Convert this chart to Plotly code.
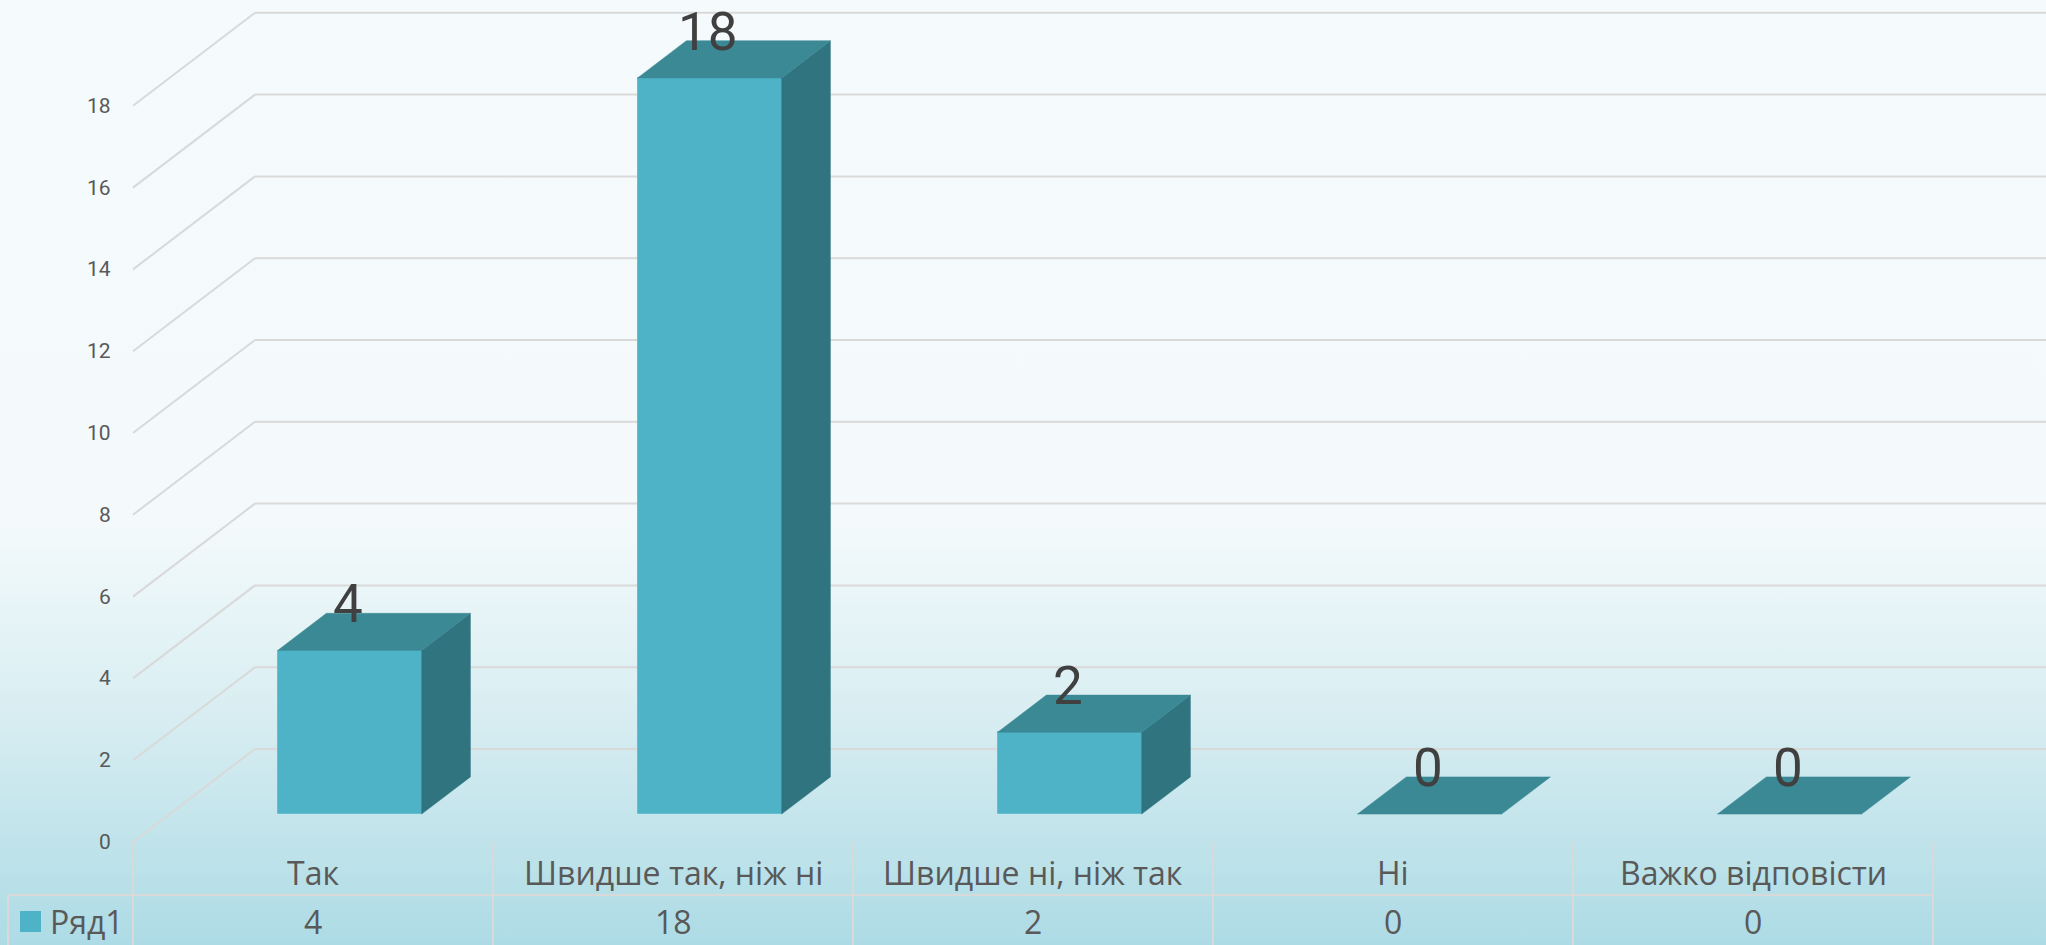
import base64
import plotly.graph_objects as go

# ---------------- data ----------------
categories = ["Так", "Швидше так, ніж ні", "Швидше ні, ніж так", "Ні", "Важко відповісти"]
values = [4, 18, 2, 0, 0]
y_ticks = [0, 2, 4, 6, 8, 10, 12, 14, 16, 18]
series_name = "Ряд1"

# ---------------- style / layout constants ----------------
W, H = 2046, 945
X0, XU = 313.0, 360.0      # px of category 0 centre, px per category
Y0, YU = 842.0, 40.9       # px of value 0 at front of floor, px per value unit
XR = [(0 - X0) / XU, (W - X0) / XU]
YR = [(Y0 - H) / YU, Y0 / YU]

DX, DY = 122.0 / XU, 93.0 / YU     # full depth vector
F_FRONT, F_BACK = 0.30, 0.70        # bar depth position
BAR_W = 0.4

FRONT_C = "#4FB3C8"
TOP_C = "#3B8995"
SIDE_C = "#307480"
GRID_C = "#D9D9D9"
TXT_C = "#595959"
FONT = "Roboto"
TABLE_FONT = "Open Sans"

fig = go.Figure()

def add_line(x0, y0, x1, y1):
    fig.add_shape(type="line", xref="x", yref="y", x0=x0, y0=y0, x1=x1, y1=y1,
                  line=dict(color=GRID_C, width=2), layer="below")

# ---------- gridlines: left wall diagonals + back wall horizontals ----------
for t in y_ticks:
    add_line(-0.5, t, -0.5 + DX, t + DY)
    add_line(-0.5 + DX, t + DY, XR[1] + 0.1, t + DY)

# ---------- data table lines ----------
row_split = -1.296
left_border = (8 - X0) / XU
for k in range(len(categories) + 1):
    add_line(-0.5 + k, 0, -0.5 + k, YR[0] - 0.5)
add_line(left_border, row_split, len(categories) - 0.5, row_split)
add_line(left_border, row_split, left_border, YR[0] - 0.5)

# ---------- 3D bars ----------
fx_off, fy_off = F_FRONT * DX, F_FRONT * DY
bdx, bdy = (F_BACK - F_FRONT) * DX, (F_BACK - F_FRONT) * DY
xs = [i + fx_off for i in range(len(categories))]

# front faces
fig.add_trace(go.Bar(x=xs, y=values, base=fy_off, width=BAR_W,
                     marker=dict(color=FRONT_C, line=dict(color="#66BFD0", width=1)),
                     hoverinfo="skip", showlegend=False))

top_x, top_y, side_x, side_y = [], [], [], []
for xc, v in zip(xs, values):
    x0, x1 = xc - BAR_W / 2, xc + BAR_W / 2
    y0, y1 = fy_off, fy_off + v
    top_x += [x0, x1, x1 + bdx, x0 + bdx, x0, None]
    top_y += [y1, y1, y1 + bdy, y1 + bdy, y1, None]
    if v > 0:
        side_x += [x1, x1 + bdx, x1 + bdx, x1, x1, None]
        side_y += [y0, y0 + bdy, y1 + bdy, y1, y0, None]

fig.add_trace(go.Scatter(x=side_x, y=side_y, mode="lines", fill="toself", fillcolor=SIDE_C,
                         line=dict(color=SIDE_C, width=0.5), hoverinfo="skip", showlegend=False))
fig.add_trace(go.Scatter(x=top_x, y=top_y, mode="lines", fill="toself", fillcolor=TOP_C,
                         line=dict(color=TOP_C, width=0.5), hoverinfo="skip", showlegend=False))

# ---------- data labels ----------
for xc, v in zip(xs, values):
    fig.add_annotation(x=xc - 0.004, y=fy_off + v + bdy + 0.22, text=str(v), showarrow=False,
                       xanchor="center", yanchor="middle",
                       font=dict(family=FONT, size=53, color="#404040"))

# ---------- value axis tick labels ----------
for t in y_ticks:
    fig.add_annotation(x=(113 - X0) / XU, y=t, text=str(t), showarrow=False,
                       xanchor="right", yanchor="middle",
                       font=dict(family=FONT, size=21, color=TXT_C))

# ---------- data table text ----------
for i, (c, v) in enumerate(zip(categories, values)):
    fig.add_annotation(x=i, y=-0.74, text=c, showarrow=False, xanchor="center", yanchor="middle",
                       font=dict(family=TABLE_FONT, size=32, color=TXT_C))
    fig.add_annotation(x=i, y=-1.95, text=str(v), showarrow=False, xanchor="center", yanchor="middle",
                       font=dict(family=TABLE_FONT, size=32, color=TXT_C))

# legend key inside the table
fig.add_trace(go.Scatter(x=[(30.5 - X0) / XU], y=[-1.944], mode="markers",
                         marker=dict(symbol="square", size=21, color=FRONT_C),
                         hoverinfo="skip", showlegend=False))
fig.add_annotation(x=(48 - X0) / XU, y=-1.95, text=series_name, showarrow=False,
                   xanchor="left", yanchor="middle",
                   font=dict(family=TABLE_FONT, size=32, color=TXT_C))

# ---------- background gradient ----------
svg = (
    '<svg xmlns="http://www.w3.org/2000/svg" width="100" height="100" preserveAspectRatio="none">'
    '<defs><linearGradient id="g" x1="0" y1="0" x2="0" y2="1">'
    '<stop offset="0" stop-color="#F5FBFC"/>'
    '<stop offset="0.55" stop-color="#F4FAFB"/>'
    '<stop offset="0.75" stop-color="#D9EEF2"/>'
    '<stop offset="1" stop-color="#ADDBE5"/>'
    '</linearGradient></defs>'
    '<rect width="100" height="100" fill="url(#g)"/></svg>'
)
src = "data:image/svg+xml;base64," + base64.b64encode(svg.encode()).decode()
fig.add_layout_image(dict(source=src, xref="paper", yref="paper", x=0, y=1, sizex=1, sizey=1,
                          sizing="stretch", xanchor="left", yanchor="top", layer="below"))

fig.update_layout(
    width=W, height=H, margin=dict(l=0, r=0, t=0, b=0, pad=0),
    paper_bgcolor="#F5FBFC", plot_bgcolor="rgba(0,0,0,0)",
    xaxis=dict(range=XR, visible=False, fixedrange=True),
    yaxis=dict(range=YR, visible=False, fixedrange=True),
    bargap=0, showlegend=False,
)

fig.write_html("out.html", config={"displayModeBar": False},
               post_script="document.body.style.margin='0';document.body.style.overflow='hidden';")
